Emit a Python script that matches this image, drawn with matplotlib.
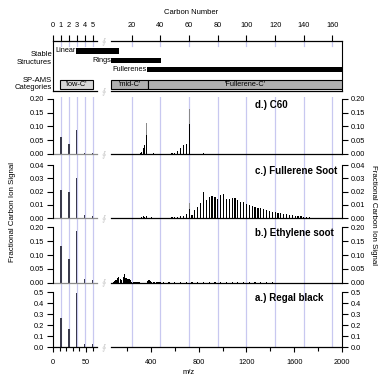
import numpy as np
import matplotlib
matplotlib.use("Agg")
import matplotlib.pyplot as plt
from matplotlib.ticker import FormatStrFormatter

plt.rcParams["font.family"] = ["Liberation Sans", "DejaVu Sans"]

W, H = 379, 376

# ---- data (carbon numbers; m/z = 12 * C) ---------------------------------
low_carbons = [1, 2, 3, 4, 5]
grid_carbons = [1, 2, 3, 4, 5, 20, 40, 60, 80, 100, 120, 140, 160]
top_tick_carbons = [0, 1, 2, 3, 4, 5, 20, 40, 60, 80, 100, 120, 140, 160]

# stable structures (start C, end C)
struct_names = ["Linear", "Rings", "Fullerenes"]
struct_start = [2.9, 5.6, 30.7]
struct_end = [11.2, 40.1, 170]

# SP-AMS categories
cat_names = ["'low-C'", "'mid-C'", "'Fullerene-C'"]
cat_start = [0.9, 5.6, 31.0]
cat_end = [5.0, 31.0, 170]
cat_colors = ["#d6d6d6", "#b0b0b0", "#b0b0b0"]

# d.) C60
c60_low = [0.060, 0.037, 0.088, 0.004, 0.003]
c60_carbons = [26, 27, 28, 29, 30, 35, 48, 50, 52, 54, 56, 58, 60, 70]
c60_vals = [0.003, 0.008, 0.020, 0.033, 0.069, 0.002, 0.002, 0.005, 0.011,
            0.021, 0.033, 0.035, 0.109, 0.002]
c60_hi_carbons = [30, 60]
c60_hi_vals = [0.114, 0.162]

# c.) Fullerene soot
fs_low = [0.021, 0.020, 0.030, 0.0025, 0.0015]
fs_carbons = [27, 28, 29, 30, 34,
              44, 46, 48, 50, 52, 54, 56, 58, 60, 62, 64, 66, 68, 70,
              72, 74, 76, 78, 80, 82, 84, 86, 88, 90, 92, 94, 96, 98, 100,
              102, 104, 106, 108, 110, 112, 114, 116, 118, 120, 122, 124, 126, 128, 130,
              132, 134, 136, 138, 140, 142, 144, 146, 148, 150, 152, 154, 156]
fs_vals = [0.0008, 0.0015, 0.0010, 0.0015, 0.0008,
           0.0004, 0.0006, 0.0008, 0.0010, 0.0012, 0.0015, 0.0017, 0.0032, 0.0070,
           0.0025, 0.0063, 0.0088, 0.0113, 0.0200,
           0.0138, 0.0163, 0.0168, 0.0163, 0.0143, 0.0175, 0.0180, 0.0143, 0.0143,
           0.0150, 0.0150, 0.0138, 0.0125, 0.0120, 0.0105,
           0.0100, 0.0093, 0.0088, 0.0080, 0.0075, 0.0068, 0.0063, 0.0055, 0.0050,
           0.0045, 0.0043, 0.0038, 0.0033, 0.0030, 0.0027,
           0.0024, 0.0021, 0.0018, 0.0015, 0.0012, 0.0010, 0.0008, 0.0006, 0.0005,
           0.0004, 0.0003, 0.0002, 0.0002]
fs_hi_carbons = [60]
fs_hi_vals = [0.0113]

# b.) Ethylene soot
es_low = [0.133, 0.085, 0.188, 0.015, 0.010]
es_carbons = [7, 8, 9, 10, 11, 12, 13, 14, 15, 16, 17, 18, 19, 20, 21, 22, 23, 24, 25,
              31, 32, 33, 34, 35, 36, 37, 38, 39, 40,
              42, 46, 50, 54, 58, 62, 66, 70, 74, 78, 82, 86, 90, 94, 98, 102,
              106, 110, 114, 118, 122, 126, 130, 134, 138, 142, 146, 150, 154, 158, 162, 166]
es_vals = [0.003, 0.005, 0.010, 0.018, 0.020, 0.012, 0.010, 0.020, 0.032, 0.018,
           0.015, 0.012, 0.010, 0.004, 0.003, 0.002, 0.002, 0.0015, 0.001,
           0.006, 0.008, 0.005, 0.004, 0.003, 0.002, 0.002, 0.002, 0.0015, 0.0015,
           0.0015, 0.0014, 0.0014, 0.0013, 0.0013, 0.0012, 0.0012, 0.0012, 0.0011,
           0.0011, 0.0010, 0.0010, 0.0010, 0.0009, 0.0009, 0.0009, 0.0008, 0.0008,
           0.0008, 0.0008, 0.0007, 0.0007, 0.0007, 0.0007, 0.0006, 0.0006, 0.0006,
           0.0006, 0.0005, 0.0005, 0.0005, 0.0005]

# a.) Regal black
rb_low = [0.262, 0.162, 0.496, 0.027, 0.025]
rb_carbons = [6, 7, 8]
rb_vals = [0.002, 0.001, 0.001]

# ---- broken m/z axis: 0-66 on the left piece, 66-2000 on the right --------
KL = 0.66
KR = 231 / 1934
BRK = 66.0
GAP0 = BRK * KL
R0 = 58.0
BREAK_FRAC = 50.8 / 289

LAV = "#c8c8f0"


def fwd(x):
    x = np.asarray(x, dtype=float)
    return np.where(x <= BRK, x * KL, R0 + (x - BRK) * KR)


def inv(u):
    u = np.asarray(u, dtype=float)
    return np.where(u <= GAP0, u / KL,
                    np.where(u >= R0, BRK + (u - R0) / KR, BRK))


def px_rect(top, bottom, left=53, right=342):
    return [left / W, 1 - bottom / H, (right - left) / W, (bottom - top) / H]


def setup(ax):
    ax.set_xscale("function", functions=(fwd, inv))
    ax.set_xlim(0, 2000)
    ax.set_facecolor("none")
    for side in ["top", "bottom"]:
        ax.spines[side].set_visible(False)
    for side in ["left", "right"]:
        ax.spines[side].set_linewidth(0.8)


def broken_line(ax, y, left_color="black"):
    tr = ax.get_xaxis_transform()
    ax.plot([0, BRK], [y, y], color=left_color, lw=0.9, transform=tr, clip_on=False)
    ax.plot([BRK + 0.01, 2000], [y, y], color="black", lw=0.9, transform=tr, clip_on=False)
    ax.text(BREAK_FRAC, y, "\u222e", transform=ax.transAxes, ha="center", va="center",
            color="#c8c8c8", fontsize=6, clip_on=False)


def mz(carbons):
    return [12 * c for c in carbons]


fig = plt.figure(figsize=(W / 100, H / 100), dpi=100)

# lavender guide lines behind the spectra
bg = fig.add_axes(px_rect(97, 347))
setup(bg)
bg.set_ylim(0, 1)
bg.axis("off")
for c in grid_carbons:
    bg.axvline(12 * c, color=LAV, lw=0.9)

# ---- top panel: structures and categories --------------------------------
ax_top = fig.add_axes(px_rect(41, 91))
setup(ax_top)
ax_top.set_ylim(0, 50)
ax_top.set_yticks([])
struct_y = [40, 30.5, 21.3]
for name, s, e, y in zip(struct_names, struct_start, struct_end, struct_y):
    ax_top.barh(y, 12 * e - 12 * s, left=12 * s, height=5.5, color="black")
    ax_top.text(12 * s, y, name, ha="right", va="center", fontsize=5.3)
for name, s, e, col in zip(cat_names, cat_start, cat_end, cat_colors):
    ax_top.barh(6.5, 12 * e - 12 * s, left=12 * s, height=9, color=col,
                edgecolor="black", linewidth=0.8)
    ax_top.text((12 * s + 12 * min(e, 2000 / 12)) / 2, 6.5, name, ha="center",
                va="center", fontsize=5.3)
for c in grid_carbons:
    ax_top.axvline(12 * c, ymin=0.9, ymax=1, color=LAV, lw=0.9)
ax_top.xaxis.set_ticks_position("top")
ax_top.set_xticks(mz(top_tick_carbons))
ax_top.set_xticklabels([str(c) for c in top_tick_carbons])
ax_top.tick_params(axis="x", length=4.3, width=0.8, pad=4.5, labelsize=5.3)
broken_line(ax_top, 1)
broken_line(ax_top, 0)

fig.text(191 / W, 1 - 13 / H, "Carbon Number", ha="center", va="center", fontsize=5.5)
fig.text(52 / W, 1 - 58.5 / H, "Stable\nStructures", ha="right", va="center",
         fontsize=5.5, linespacing=1.1)
fig.text(52 / W, 1 - 84 / H, "SP-AMS\nCategories", ha="right", va="center",
         fontsize=5.5, linespacing=1.1)

# ---- spectra panels ---------------------------------------------------------
panels = [
    ("d.) C60", 99, 154, 0.20, [0, 0.05, 0.10, 0.15, 0.20], "%.2f",
     c60_low, c60_carbons, c60_vals, c60_hi_carbons, c60_hi_vals),
    ("c.) Fullerene Soot", 165, 218.3, 0.04, [0, 0.01, 0.02, 0.03, 0.04], "%.2f",
     fs_low, fs_carbons, fs_vals, fs_hi_carbons, fs_hi_vals),
    ("b.) Ethylene soot", 227.3, 282.7, 0.20, [0, 0.05, 0.10, 0.15, 0.20], "%.2f",
     es_low, es_carbons, es_vals, [], []),
    ("a.) Regal black", 292.3, 347, 0.5, [0, 0.1, 0.2, 0.3, 0.4, 0.5], "%.1f",
     rb_low, rb_carbons, rb_vals, [], []),
]

for i, (label, top, bottom, ymax, yticks, fmt, low, carb, vals, hi_c, hi_v) in enumerate(panels):
    ax = fig.add_axes(px_rect(top, bottom))
    setup(ax)
    ax.bar(mz(low_carbons), low, width=2.2, color="#3a3a4c", linewidth=0)
    if hi_c:
        ax.bar(mz(hi_c), hi_v, width=10, color="#8a8a8a", linewidth=0)
    ax.bar(mz(carb), vals, width=10, color="black", linewidth=0)
    ax.set_ylim(0, ymax)
    ax.set_yticks(yticks)
    ax.yaxis.set_major_formatter(FormatStrFormatter(fmt))
    ax.tick_params(axis="y", left=True, right=True, labelleft=True, labelright=True,
                   direction="out", length=4.3, width=0.8, pad=2, labelsize=5.3)
    last = i == len(panels) - 1
    broken_line(ax, 0, left_color="black" if last else "#8c8c8c")
    if last:
        ax.set_xticks([0, 50, 400, 800, 1200, 1600, 2000])
        ax.set_xticklabels(["0", "50", "400", "800", "1200", "1600", "2000"])
        ax.set_xticks([10, 20, 30, 40, 60, 200, 600, 1000, 1400, 1800], minor=True)
        ax.tick_params(axis="x", which="major", length=3.8, width=0.8, pad=4.5,
                       labelsize=5.3)
        ax.tick_params(axis="x", which="minor", length=3.0, width=0.8)
    else:
        ax.set_xticks([])
    fig.text(255 / W, 1 - (top + 6) / H, label, ha="left", va="center",
             fontsize=7, fontweight="bold")

fig.text(189 / W, 1 - 373 / H, "m/z", ha="center", va="center", fontsize=5.5)
fig.text(13 / W, 1 - 212 / H, "Fractional Carbon Ion Signal", rotation=90,
         ha="center", va="center", fontsize=5.7)
fig.text(374 / W, 1 - 215 / H, "Fractional Carbon Ion Signal", rotation=-90,
         ha="center", va="center", fontsize=5.7)

fig.savefig("out.png", dpi=100)
